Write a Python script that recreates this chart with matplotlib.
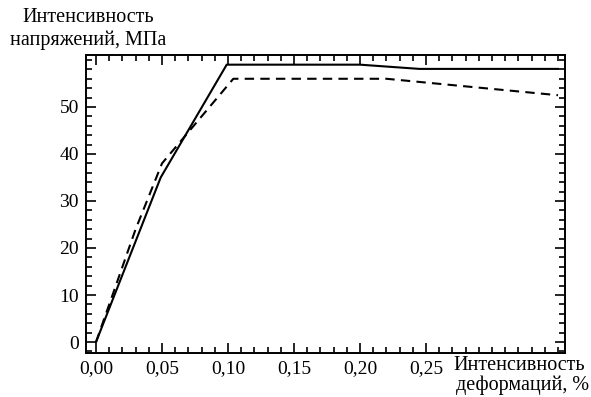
import matplotlib
matplotlib.use('Agg')
import matplotlib.pyplot as plt
from matplotlib.ticker import MultipleLocator, FuncFormatter

# data
solid_x = [0.0, 0.049, 0.099, 0.20, 0.245, 0.35]
solid_y = [0.0, 35.0, 59.0, 59.0, 58.1, 58.1]
dashed_x = [0.0, 0.03, 0.05, 0.065, 0.104, 0.22, 0.35]
dashed_y = [0.0, 24.0, 38.0, 43.0, 56.0, 56.0, 52.5]
xticks = [0.0, 0.05, 0.10, 0.15, 0.20, 0.25]
yticks = [0, 10, 20, 30, 40, 50]

plt.rcParams['font.family'] = ['Liberation Serif', 'DejaVu Serif']
plt.rcParams['font.size'] = 14

fig = plt.figure(figsize=(5.91, 3.97), dpi=100)
ax = fig.add_axes([0.1455, 0.1108, 0.8105, 0.7507])

ax.plot(solid_x, solid_y, color='black', lw=1.5)
ax.plot(dashed_x, dashed_y, color='black', lw=1.5, dashes=(4.5, 3))

ax.set_xlim(-0.0076, 0.3553)
ax.set_ylim(-2.34, 61.06)
ax.set_xticks(xticks)
ax.set_yticks(yticks)
ax.xaxis.set_minor_locator(MultipleLocator(0.01))
ax.yaxis.set_minor_locator(MultipleLocator(2))
ax.xaxis.set_major_formatter(FuncFormatter(lambda v, p: f'{v:.2f}'.replace('.', ',')))
ax.tick_params(which='both', direction='in', top=True, right=True, width=1.2)
ax.tick_params(which='major', length=7, pad=5, labelsize=14)
ax.tick_params(which='minor', length=4)
for s in ax.spines.values():
    s.set_linewidth(1.4)

fig.text(0.149, 0.955, 'Интенсивность', ha='center', va='center', fontsize=14.5)
fig.text(0.017, 0.899, 'напряжений, МПа', ha='left', va='center', fontsize=14.5)
fig.text(0.878, 0.08, 'Интенсивность', ha='center', va='center', fontsize=14.5)
fig.text(0.996, 0.03, 'деформаций, %', ha='right', va='center', fontsize=14.5)

fig.savefig('out.png', dpi=100)
plt.close()
